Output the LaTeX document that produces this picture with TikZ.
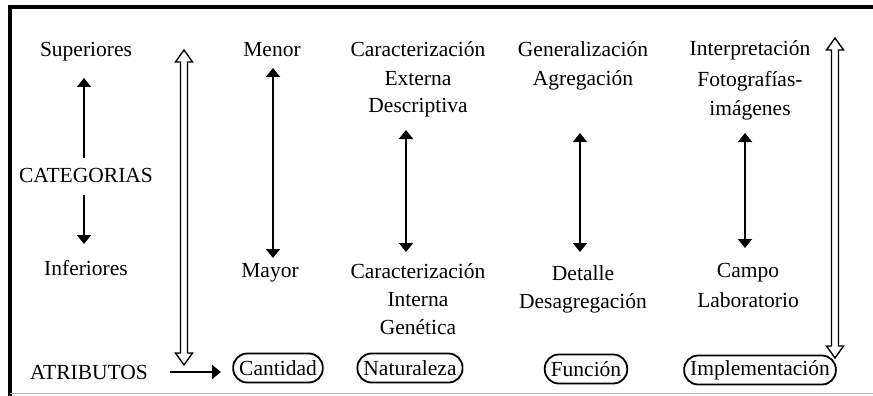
\documentclass[tikz,border=0pt]{standalone}
\usepackage{fontspec}
\setmainfont{LiberationSerif}[Extension=.ttf, UprightFont=*-Regular, BoldFont=*-Bold]
\usetikzlibrary{arrows.meta,calc}
\newcommand{\hollowarr}[3]{%
  \draw[hollow] (#1,#2) -- ++(8.5,12) -- ++(-5,0) -- (#1+3.5,#3-12) -- ++(5,0) -- (#1,#3)
    -- ++(-8.5,-12) -- ++(5,0) -- (#1-3.5,#2+12) -- ++(-5,0) -- cycle;}
\begin{document}
\begin{tikzpicture}[x=1pt,y=-1pt,
  lbl/.style={anchor=base, inner sep=0pt, font=\fontsize{21.5}{28}\selectfont},
  oval/.style={draw, line width=1.8pt, rounded corners=14pt, minimum height=29pt,
    inner xsep=6pt, inner ysep=0pt, font=\fontsize{21.5}{28}\selectfont},
  blk/.style={line width=2pt, -{Triangle[length=9pt,width=14pt]}},
  blk2/.style={line width=2pt, {Triangle[length=9pt,width=14pt]}-{Triangle[length=9pt,width=14pt]}},
  hollow/.style={line width=1.4pt, fill=white, line join=miter}
]
\useasboundingbox (0,0) rectangle (873,396);
% frame
\draw[line width=4pt] (8,7) -- (873,7);
\draw[line width=4pt] (10,5) -- (10,396);
\draw[line width=1pt, black!30] (10,393) -- (873,393);

% column 1
\node[lbl] (sup) at (86,57) {Superiores};
\node[lbl] (cat) at (86,182) {CATEGORIAS};
\node[lbl] (inf) at (86,275) {Inferiores};
\node[lbl] (atr) at (89,379) {ATRIBUTOS};
\coordinate (c1a) at (84,158);
\coordinate (c1b) at (84,78);
\coordinate (c1c) at (84,195);
\coordinate (c1d) at (84,244);
\draw[blk] (c1a) -- (c1b);
\draw[blk] (c1c) -- (c1d);

% left hollow arrow
\hollowarr{184}{50}{365}

% column 2
\node[lbl] (men) at (272,57) {Menor};
\node[lbl] (may) at (270,277) {Mayor};
\coordinate (c2a) at (273,68);
\coordinate (c2b) at (273,258);
\draw[blk2] (c2a) -- (c2b);

% column 3
\node[lbl] (ce1) at (418,57) {Caracterización};
\node[lbl] (ce2) at (418,85) {Externa};
\node[lbl] (ce3) at (418,113) {Descriptiva};
\node[lbl] (ci1) at (418,278) {Caracterización};
\node[lbl] (ci2) at (418,306) {Interna};
\node[lbl] (ci3) at (418,334) {Genética};
\coordinate (c3a) at (406,130);
\coordinate (c3b) at (406,252);
\draw[blk2] (c3a) -- (c3b);

% column 4
\node[lbl] (ge1) at (583,57) {Generalización};
\node[lbl] (ge2) at (583,85) {Agregación};
\node[lbl] (de1) at (583,280) {Detalle};
\node[lbl] (de2) at (583,308) {Desagregación};
\coordinate (c4a) at (580,133);
\coordinate (c4b) at (580,252);
\draw[blk2] (c4a) -- (c4b);

% column 5
\node[lbl] (in1) at (750,56) {Interpretación};
\node[lbl] (in2) at (750,86) {Fotografías-};
\node[lbl] (in3) at (750,115) {imágenes};
\node[lbl] (ca1) at (748,277) {Campo};
\node[lbl] (ca2) at (748,307) {Laboratorio};
\coordinate (c5a) at (745,133);
\coordinate (c5b) at (745,248);
\draw[blk2] (c5a) -- (c5b);

% right hollow arrow
\hollowarr{835}{38}{358}

% bottom row
\node[oval] (cant) at (278,368) {Cantidad};
\node[oval] (nat) at (410,368) {Naturaleza};
\node[oval] (fun) at (586,369) {Función};
\node[oval] (imp) at (760,370) {Implementación};
\coordinate (ar1) at (170,372);
\coordinate (ar2) at (221,372);
\draw[blk] (ar1) -- (ar2);
\end{tikzpicture}
\end{document}
